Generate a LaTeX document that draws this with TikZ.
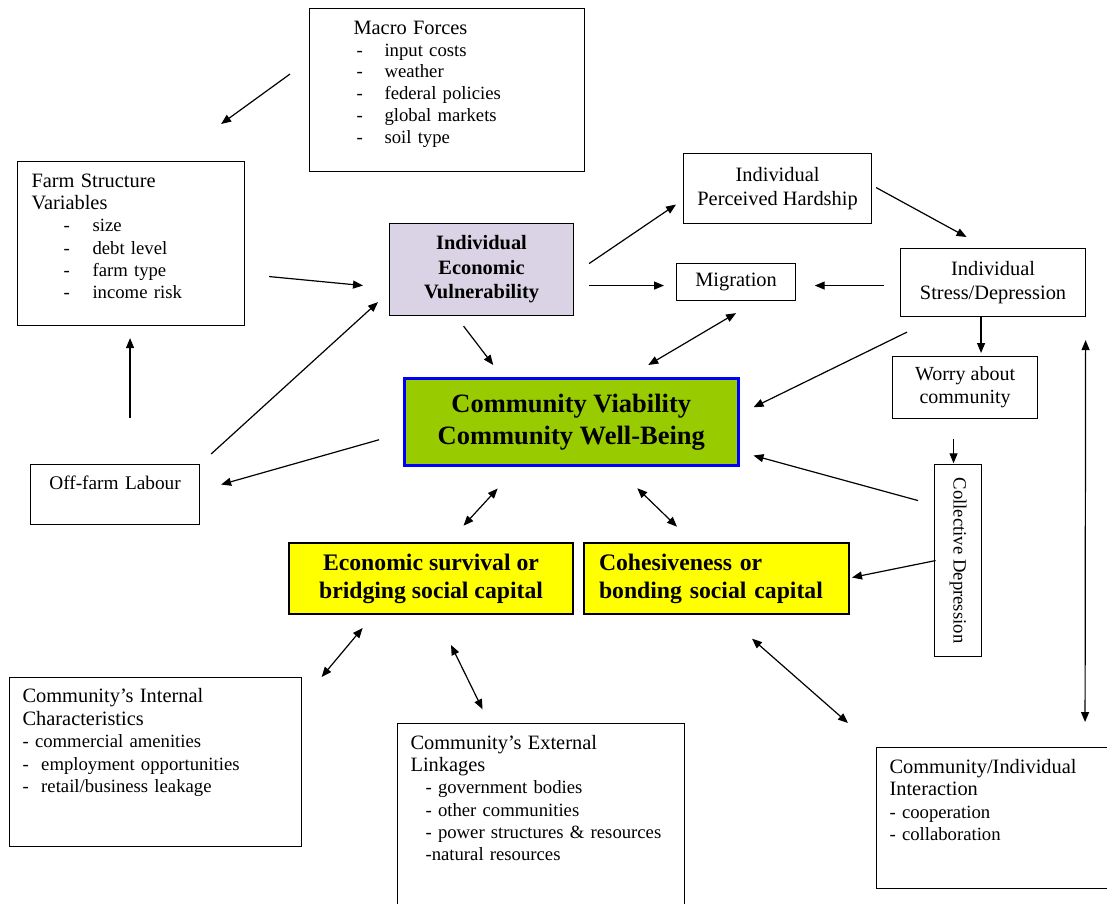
\documentclass[tikz,border=0pt]{standalone}
\usepackage{fontspec}
\usepackage{graphicx}
\setmainfont{Liberation Serif}
\usetikzlibrary{arrows.meta}
\definecolor{vuln}{RGB}{217,211,229}
\definecolor{viable}{RGB}{153,204,0}
\definecolor{capital}{RGB}{255,255,0}
\definecolor{rim}{RGB}{0,0,255}
\newcommand{\headsize}{\fontsize{20.4}{21.7}\selectfont}
\newcommand{\listsize}{\fontsize{18.7}{21.7}\selectfont}
\newcommand{\dashitem}[3]{\hspace*{#1}\makebox[#2][l]{-}#3}
\tikzset{
  box/.style={draw,line width=1.1pt,inner sep=0pt,anchor=north west},
  listbox/.style={box,align=left,font=\listsize},
  midbox/.style={box,align=center,font=\headsize},
  keybox/.style={midbox,fill=vuln,font=\bfseries\fontsize{20.4}{24.5}\selectfont},
  vital/.style={box,line width=2.5pt,draw=rim,fill=viable,align=center,font=\bfseries\fontsize{26.5}{32}\selectfont},
  capbox/.style={box,line width=2pt,fill=capital,font=\bfseries\fontsize{23.7}{28}\selectfont},
  flow/.style={-{Triangle[length=10pt,width=8pt]},line width=1.2pt},
  twoway/.style={{Triangle[length=10pt,width=8pt]}-{Triangle[length=10pt,width=8pt]},line width=1.2pt},
}
\begin{document}
\begin{tikzpicture}[x=1pt,y=-1pt]
\useasboundingbox (0,0) rectangle (1107,903);

% upper row
\node[listbox,inner xsep=44pt,text width=187pt,text height=26pt,text depth=137pt] (macro) at (309,8)
  {{\headsize Macro Forces}\\
   \dashitem{3pt}{28pt}{input costs}\\
   \dashitem{3pt}{28pt}{weather}\\
   \dashitem{3pt}{28pt}{federal policies}\\
   \dashitem{3pt}{28pt}{global markets}\\
   \dashitem{3pt}{28pt}{soil type}};
\node[listbox,inner xsep=14pt,text width=199pt,text height=26pt,text depth=138pt,font=\fontsize{18.7}{22.2}\selectfont] (farm) at (17,161)
  {{\headsize Farm Structure}\\
   {\headsize Variables}\\
   \dashitem{32pt}{29pt}{size}\\
   \dashitem{32pt}{29pt}{debt level}\\
   \dashitem{32pt}{29pt}{farm type}\\
   \dashitem{32pt}{29pt}{income risk}};
\node[keybox,minimum width=184pt,minimum height=92pt] (iev) at (389,223) {Individual\\Economic\\Vulnerability};
\node[midbox,minimum width=188pt,minimum height=70pt,font=\fontsize{20.4}{24}\selectfont] (iph) at (683,153) {Individual\\Perceived Hardship};
\node[midbox,minimum width=119pt,minimum height=37pt] (mig) at (676,263) {Migration};
\node[midbox,minimum width=185pt,minimum height=68pt,font=\fontsize{20.4}{24}\selectfont] (stress) at (900,248) {Individual\\Stress/Depression};
\node[midbox,minimum width=145pt,minimum height=62pt,font=\fontsize{20}{23}\selectfont] (worry) at (892,356) {Worry about\\community};

% middle
\node[vital,minimum width=334pt,minimum height=87pt] (cv) at (403,377) {Community Viability\\Community Well-Being};
\node[midbox,text width=169pt,text height=25pt,text depth=35pt,font=\fontsize{19.3}{22}\selectfont] (off) at (30,464) {Off-farm Labour};
\node[capbox,align=center,minimum width=284pt,minimum height=71pt] (econ) at (288,542) {Economic survival or\\bridging social capital};
\node[capbox,align=left,inner xsep=15pt,text width=235pt,minimum height=71pt] (coh) at (583,542) {Cohesiveness or\\bonding social capital};
\node[box,minimum width=47pt,minimum height=192pt,font=\listsize] (coll) at (934,464) {\rotatebox{-90}{Collective Depression}};

% lower row
\node[listbox,inner xsep=13pt,text width=266pt,text height=25pt,text depth=144pt,font=\fontsize{18.7}{22.5}\selectfont] (intl) at (9,677)
  {{\headsize Community’s Internal}\\
   {\headsize Characteristics}\\
   - commercial amenities\\
   -\ \ employment opportunities\\
   -\ \ retail/business leakage};
\node[listbox,inner xsep=13pt,text width=261pt,text height=26pt,text depth=164pt,font=\fontsize{18.7}{22.2}\selectfont] (extl) at (397,723)
  {{\headsize Community’s External}\\
   {\headsize Linkages}\\
   \hspace*{15pt}- government bodies\\
   \hspace*{15pt}- other communities\\
   \hspace*{15pt}- power structures \& resources\\
   \hspace*{15pt}-natural resources};
\node[listbox,inner xsep=13pt,text width=214pt,text height=26pt,text depth=115pt,font=\fontsize{18.7}{22.3}\selectfont] (inter) at (876,747)
  {{\headsize Community/Individual}\\
   {\headsize Interaction}\\
   - cooperation\\
   - collaboration};

\draw[flow] ([shift={(-19,-16)}]macro.west) -- ([shift={(-24,-37)}]farm.north east);
\draw[flow] ([shift={(24,33)}]farm.east) -- ([shift={(-26,16)}]iev.west);
\draw[flow] ([shift={(15,-46)}]off.north) -- ([shift={(-1,12)}]farm.south);
\draw[flow] ([shift={(11,-10)}]off.north east) -- ([shift={(-11,-14)}]iev.south west);
\draw[flow] ([shift={(-24,18)}]cv.west) -- ([shift={(21,-10)}]off.east);
\draw[flow] ([shift={(-18,10)}]iev.south) -- ([shift={(-78,-12)}]cv.north);
\draw[flow] ([shift={(15,-6)}]iev.east) -- ([shift={(-7,16)}]iph.west);
\draw[flow] ([shift={(15,16)}]iev.east) -- ([shift={(-12,3.5)}]mig.west);
\draw[flow] ([shift={(4,-1)}]iph.east) -- ([shift={(-26.5,-11)}]stress.north);
\draw[flow] ([shift={(-16,3)}]stress.west) -- ([shift={(18.6,3.5)}]mig.east);
\draw[flow] ([shift={(-12,0)}]stress.south) -- ([shift={(16,-3)}]worry.north);
\draw[flow] ([shift={(7,15)}]stress.south west) -- ([shift={(14,-14.5)}]cv.east);
\draw[twoway] ([shift={(0,12)}]mig.south) -- ([shift={(77,-12)}]cv.north);
\draw[flow] ([shift={(-11.5,20)}]worry.south) -- ([shift={(-4.5,-97.3)}]coll.center);
\draw[flow] ([shift={(-40,-60)}]coll.center) -- ([shift={(14,-11)}]cv.south east);
\draw[flow] ([shift={(-22.5,0)}]coll.center) -- ([shift={(2,-1)}]coh.east);
\draw[twoway] ([shift={(-73.6,22)}]cv.south) -- ([shift={(32.5,-16.3)}]econ.north);
\draw[twoway] ([shift={(66,21.7)}]cv.south) -- ([shift={(-39.5,-15.3)}]coh.north);
\draw[twoway] ([shift={(-68.4,13)}]econ.south) -- ([shift={(19.5,0)}]intl.north east);
\draw[twoway] ([shift={(20,30)}]econ.south) -- ([shift={(-58.5,-13.7)}]extl.north);
\draw[twoway] ([shift={(35.5,23.7)}]coh.south) -- ([shift={(-28,-24)}]inter.north west);
\draw[twoway] ([shift={(-0.5,23)}]stress.south east) -- ([shift={(88.5,-25)}]inter.north);
\end{tikzpicture}
\end{document}
